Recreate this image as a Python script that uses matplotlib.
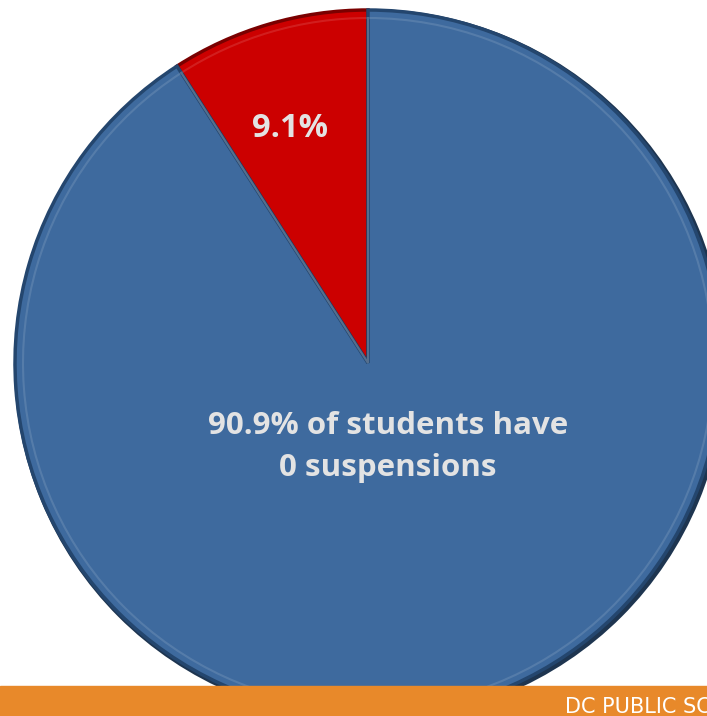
import numpy as np
import matplotlib.pyplot as plt

# share of students by suspensions
labels = ["1+ suspensions", "0 suspensions"]
shares = [9.1, 90.9]
colors = ["#CC0000", "#3E6A9E"]
edges = ["#7A0000", "#24466E"]

W, H = 707, 716
fig = plt.figure(figsize=(W / 100, H / 100), dpi=100)
ax = fig.add_axes([0, 0, 1, 1])

cx, cy, r = 368, H - 363, 353

# soft shadow ring for the bevel look
ax.pie([1], radius=r + 3, center=(cx + 2, cy - 2), colors=["#1E3550"],
       wedgeprops=dict(linewidth=0), frame=True)

wedges, _ = ax.pie(shares, radius=r, center=(cx, cy), startangle=90,
                   counterclock=True, colors=colors, frame=True,
                   wedgeprops=dict(linewidth=2.5))
for w, ec in zip(wedges, edges):
    w.set_edgecolor(ec)

# inner highlight rings
ax.pie(shares, radius=r - 8, center=(cx, cy), startangle=90, frame=True,
       colors=["none", "none"],
       wedgeprops=dict(linewidth=1.5, edgecolor="#FFFFFF", alpha=0.12))

ax.set_xlim(0, W)
ax.set_ylim(0, H)
ax.set_aspect("equal")
ax.axis("off")

# red slice label
ang = np.deg2rad(90 + shares[0] / 100 * 360 / 2 + 2)
lx = cx + 0.70 * r * np.cos(ang)
ly = cy + 0.70 * r * np.sin(ang)
ax.text(lx, ly, f"{shares[0]:.1f}%", ha="center", va="center",
        fontsize=23.5, fontweight="bold", color="#E3E3E3", family="Open Sans")

ax.text(cx + 20, cy - 84, f"{shares[1]:.1f}% of students have\n0 suspensions",
        ha="center", va="center", fontsize=22.5, fontweight="bold",
        color="#E3E3E3", family="Open Sans", linespacing=1.55)

# footer bar
ax.add_patch(plt.Rectangle((0, 0), W, 30, color="#E8892A", zorder=5))
ax.text(565, 9, "DC PUBLIC SCHOOLS", fontsize=15, color="white",
        family="DejaVu Sans", ha="left", va="center", zorder=6, clip_on=False)

fig.savefig("out.png", dpi=100)
